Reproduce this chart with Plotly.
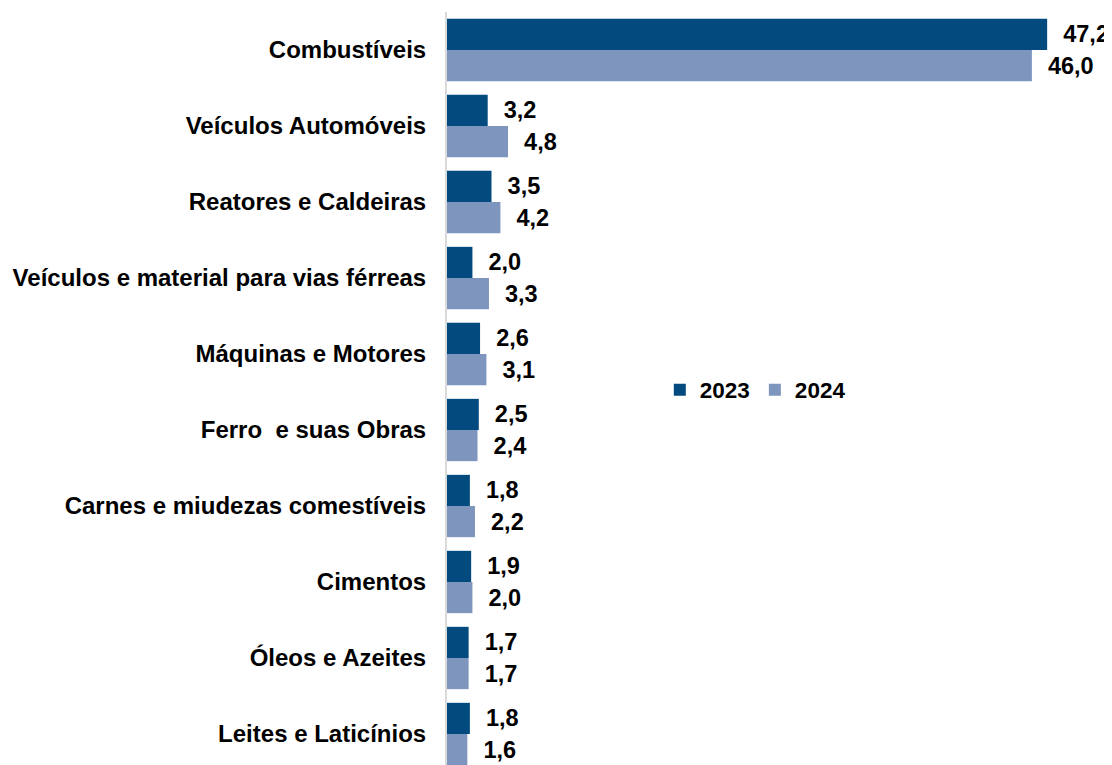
import plotly.graph_objects as go

categories = [
    "Combustíveis",
    "Veículos Automóveis",
    "Reatores e Caldeiras",
    "Veículos e material para vias férreas",
    "Máquinas e Motores",
    "Ferro  e suas Obras",
    "Carnes e miudezas comestíveis",
    "Cimentos",
    "Óleos e Azeites",
    "Leites e Laticínios",
]
values_2023 = [47.2, 3.2, 3.5, 2.0, 2.6, 2.5, 1.8, 1.9, 1.7, 1.8]
values_2024 = [46.0, 4.8, 4.2, 3.3, 3.1, 2.4, 2.2, 2.0, 1.7, 1.6]
series_names = ["2023", "2024"]

colors = ["#034a7f", "#7e95be"]
FONT = "Liberation Sans, Arial, sans-serif"


def fmt(v):
    return "\u00a0\u00a0" + f"{v:.1f}".replace(".", ",")


fig = go.Figure()
for name, vals, col in zip(series_names, [values_2023, values_2024], colors):
    fig.add_trace(go.Bar(
        y=categories,
        x=vals,
        name=name,
        orientation="h",
        marker=dict(color=col, line=dict(width=0)),
        text=[fmt(v) for v in vals],
        textposition="outside",
        textfont=dict(family=FONT, size=23.5, color="black", weight="bold"),
        constraintext="none",
        cliponaxis=False,
        hoverinfo="skip",
    ))

fig.update_layout(
    width=1104,
    height=757,
    margin=dict(l=439, r=0, t=4, b=0),
    paper_bgcolor="white",
    plot_bgcolor="white",
    barmode="group",
    bargap=0.18,
    bargroupgap=0,
    showlegend=True,
    legend=dict(
        orientation="h",
        x=0.32, xanchor="left",
        y=0.498, yanchor="middle",
        traceorder="normal",
        font=dict(family=FONT, size=22.5, color="black", weight="bold"),
        bgcolor="rgba(0,0,0,0)",
    ),
    xaxis=dict(
        range=[0, 52.3],
        showgrid=False, zeroline=False, showline=False,
        showticklabels=False, ticks="",
    ),
    yaxis=dict(
        type="category",
        categoryorder="array",
        categoryarray=categories,
        range=[9.408, -0.5],
        showgrid=False, zeroline=False,
        showline=True, linecolor="#d9d9d9", linewidth=2,
        ticks="",
        ticklabelstandoff=14,
        tickfont=dict(family=FONT, size=24, color="black", weight="bold"),
    ),
)

fig.write_html("out.html")
